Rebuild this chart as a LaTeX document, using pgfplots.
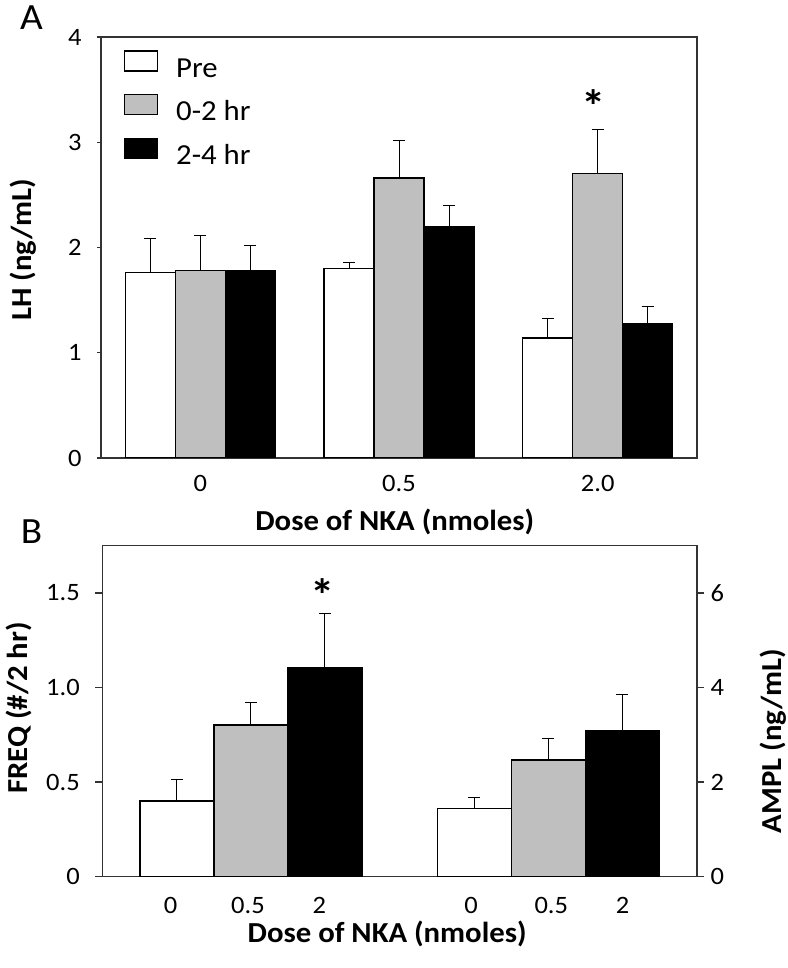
\documentclass[border=0pt]{standalone}
\usepackage{pgfplots}
\pgfplotsset{compat=1.18}
\usepackage{fontspec}
\setmainfont{Carlito}[FakeStretch=1.06]

\newcommand\tk{\fontsize{25bp}{28bp}\selectfont}
\newcommand\lb{\fontsize{29bp}{32bp}\selectfont\bfseries}
\newcommand\sigfont{\fontsize{46bp}{46bp}\selectfont\bfseries}

\pgfplotsset{
  nka/.style={
    scale only axis,
    axis line style={black!80, line width=1.3bp},
    tick align=outside,
    tick style={black!80, line width=1.3bp},
    xtick style={draw=none},
    ytick pos=left,
    ybar=0pt,
    ymin=0,
    ticklabel style={font=\tk},
    label style={font=\lb},
    /pgf/number format/assume math mode=true,
    error bars/y dir=plus,
    error bars/y explicit,
    error bars/error bar style={line width=1bp, black},
    error bars/error mark options={rotate=90, mark size=6bp, line width=1bp, black},
  },
  pre/.style={fill=white, draw=black, line width=1.2bp},
  mid/.style={fill=gray!50, draw=black, line width=1.2bp},
  late/.style={fill=black, draw=black, line width=1.2bp},
}

\begin{document}
\begin{tikzpicture}
\useasboundingbox (0bp,0bp) rectangle (788bp,968bp);

% panel A
\begin{axis}[nka,
  at={(101bp,510bp)}, anchor=south west,
  width=596bp, height=421bp,
  xmin=-0.5, xmax=2.5, ymax=4,
  bar width=50bp,
  major tick length=4bp,
  xtick={0,1,2}, xticklabels={0,0.5,2.0},
  ytick={0,1,2,3,4}, yticklabels={0,1,2,3,4},
  xticklabel style={yshift=-10bp},
  yticklabel style={xshift=-12bp},
  xlabel={Dose of NKA (nmoles)},
  ylabel={LH (ng/mL)},
  xlabel style={at={(axis description cs:0.493,-0.152)}, anchor=center},
  ylabel style={at={(axis description cs:-0.130,0.494)}, anchor=center},
  legend image code/.code={\draw[#1] (0bp,-1bp) rectangle (33bp,19bp);},
  legend style={at={(0.0386,0.968)}, anchor=north west, draw=none, fill=none,
    inner sep=0pt, outer sep=0pt, font=\fontsize{29bp}{31bp}\selectfont,
    row sep=12bp, column sep=18bp,
    nodes={inner sep=0pt, text height=19bp, text depth=5bp},
    cells={anchor=west}},
]
\addplot[pre] coordinates {(0,1.76) +- (0,0.33) (1,1.80) +- (0,0.06) (2,1.14) +- (0,0.19)};
\addlegendentry{Pre}
\addplot[mid] coordinates {(0,1.78) +- (0,0.33) (1,2.66) +- (0,0.36) (2,2.70) +- (0,0.42)};
\addlegendentry{0-2 hr}
\addplot[late] coordinates {(0,1.78) +- (0,0.24) (1,2.20) +- (0,0.20) (2,1.28) +- (0,0.16)};
\addlegendentry{2-4 hr}
\node[font=\sigfont] at (axis cs:1.98,3.34) {*};
\end{axis}

% panel B, left scale
\begin{axis}[nka,
  at={(102.3bp,91.3bp)}, anchor=south west,
  width=594.7bp, height=331bp,
  xmin=-0.5, xmax=1.5, ymax=1.75,
  bar width=74bp,
  major tick length=7bp,
  xtick={-0.27,-0.01,0.23,0.74,1.01,1.25}, xticklabels={0,0.5,2,0,0.5,2},
  ytick={0,0.5,1,1.5}, yticklabels={0,0.5,1.0,1.5},
  xticklabel style={yshift=-10bp},
  yticklabel style={xshift=-12bp},
  xlabel={Dose of NKA (nmoles)},
  ylabel={FREQ (\#/2 hr)},
  xlabel style={at={(axis description cs:0.479,-0.172)}, anchor=center},
  ylabel style={at={(axis description cs:-0.141,0.510)}, anchor=center},
]
\addplot[pre] coordinates {(0,0.400) +- (0,0.112)};
\addplot[mid] coordinates {(0,0.802) +- (0,0.118)};
\addplot[late] coordinates {(0,1.104) +- (0,0.286)};
\node[font=\sigfont] at (axis cs:0.24,1.49) {*};
\end{axis}

% panel B, right scale
\begin{axis}[nka,
  at={(102.3bp,91.3bp)}, anchor=south west,
  width=594.7bp, height=331bp,
  xmin=-0.5, xmax=1.5, ymax=7,
  bar width=74bp,
  major tick length=7bp,
  axis x line=none, axis y line*=right, ytick pos=right,
  xtick=\empty,
  ytick={0,2,4,6}, yticklabels={0,2,4,6},
  yticklabel style={xshift=3bp},
  ylabel={AMPL (ng/mL)},
  ylabel style={at={(axis description cs:1.128,0.41)}, anchor=center},
]
\addplot[pre] coordinates {(1,1.45) +- (0,0.23)};
\addplot[mid] coordinates {(1,2.47) +- (0,0.45)};
\addplot[late] coordinates {(1,3.09) +- (0,0.76)};
\end{axis}

\node[font=\fontsize{37bp}{37bp}\selectfont] at (31.5bp,950.5bp) {A};
\node[font=\fontsize{37bp}{37bp}\selectfont] at (31.5bp,436.5bp) {B};
\end{tikzpicture}
\end{document}
